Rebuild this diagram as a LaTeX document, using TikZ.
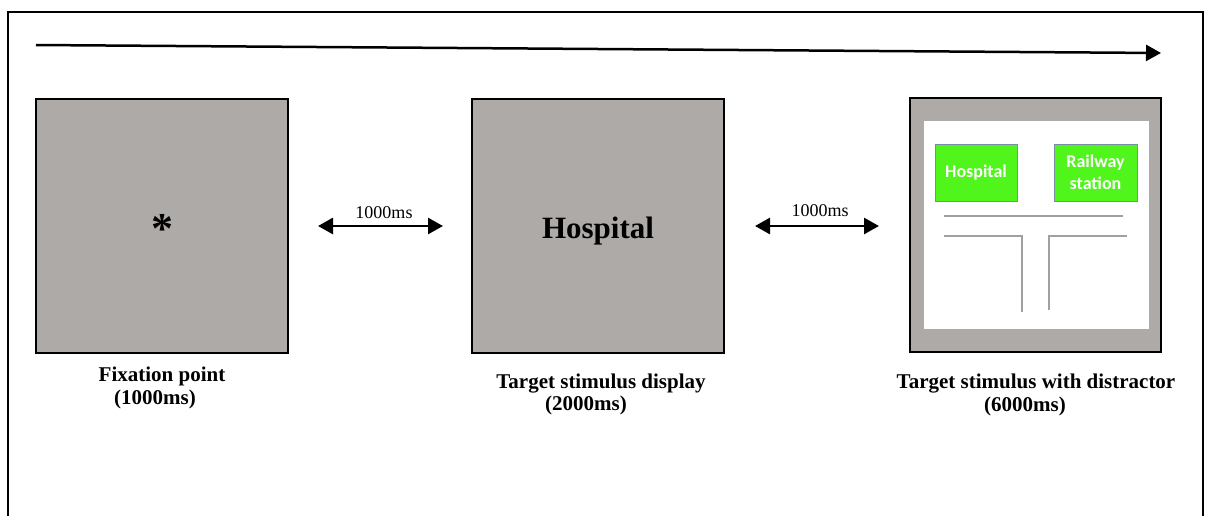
\documentclass[tikz,border=0pt]{standalone}
\usepackage{fontspec}
\setmainfont{Liberation Serif}
\newfontfamily\boxfont{Carlito}
\usetikzlibrary{arrows.meta}
\definecolor{panelgray}{RGB}{174,170,168}
\definecolor{signgreen}{RGB}{80,245,28}
\definecolor{signedge}{RGB}{120,140,165}
\definecolor{roadgray}{RGB}{160,160,160}
\tikzset{
  panel/.style={draw=black, line width=2pt, fill=panelgray},
  sign/.style={draw=signedge, line width=0.8pt, fill=signgreen},
  signtext/.style={text=white, font=\boxfont\bfseries\fontsize{18}{22}\selectfont, align=center, inner sep=0pt},
  road/.style={draw=roadgray, line width=1.5pt},
  caption/.style={font=\bfseries\fontsize{21}{23}\selectfont, anchor=base, inner sep=0pt},
  gaplabel/.style={font=\fontsize{18}{20}\selectfont, anchor=base, inner sep=0pt},
  timearrow/.style={line width=2.5pt, -{Triangle[length=15pt,width=16pt]}},
  gaparrow/.style={line width=2.8pt, {Triangle[length=15pt,width=16pt]}-{Triangle[length=15pt,width=16pt]}}
}
\begin{document}
\begin{tikzpicture}[x=1pt,y=-1pt]
\useasboundingbox (0,0) rectangle (1211,515);
% outer frame
\draw[line width=2pt] (8,540) -- (8,12) -- (1203,12) -- (1203,540);
% time arrow
\coordinate (tstart) at (36,45);
\coordinate (tend) at (1161,53);
\draw[timearrow] (tstart) -- (tend);
% panels
\node[panel, minimum width=252pt, minimum height=254pt, inner sep=0pt] (p1) at (162,226) {};
\node[panel, minimum width=252pt, minimum height=254pt, inner sep=0pt] (p2) at (598,226) {};
\node[panel, minimum width=251pt, minimum height=254pt, inner sep=0pt] (p3) at (1035.5,225) {};
% fixation star
\node[font=\bfseries\fontsize{44}{44}\selectfont, anchor=base, inner sep=0pt] (star) at (162,243) {*};
% target word
\node[font=\bfseries\fontsize{31}{31}\selectfont, anchor=base, inner sep=0pt] (word) at (598,238) {Hospital};
% distractor display
\fill[white] (924,121) rectangle (1149,329);
\node[sign, minimum width=82pt, minimum height=57pt, inner sep=0pt] (s1) at (976,172.5) {};
\node[signtext] (s1t) at (s1.center) {Hospital};
\node[sign, minimum width=83pt, minimum height=57pt, inner sep=0pt] (s2) at (1095.5,172.5) {};
\node[signtext] (s2t) at (s2.center) {Railway\\station};
\draw[road] (944,216) -- (1123,216);
\draw[road] (944,236) -- (1022,236) -- (1022,312);
\draw[road] (1127,236) -- (1049,236) -- (1049,310);
% gap arrows
\coordinate (g1a) at (318,226);
\coordinate (g1b) at (443,226);
\draw[gaparrow] (g1a) -- (g1b);
\node[gaplabel] (g1t) at (384,218) {1000ms};
\coordinate (g2a) at (755,226);
\coordinate (g2b) at (879,226);
\draw[gaparrow] (g2a) -- (g2b);
\node[gaplabel] (g2t) at (820,216) {1000ms};
% captions
\node[caption] (c1a) at (162,381) {Fixation point};
\node[caption] (c1b) at (155,404) {(1000ms)};
\node[caption] (c2a) at (601,388) {Target stimulus display};
\node[caption] (c2b) at (586,410) {(2000ms)};
\node[caption] (c3a) at (1036,388) {Target stimulus with distractor};
\node[caption] (c3b) at (1025,411) {(6000ms)};
\end{tikzpicture}
\end{document}
